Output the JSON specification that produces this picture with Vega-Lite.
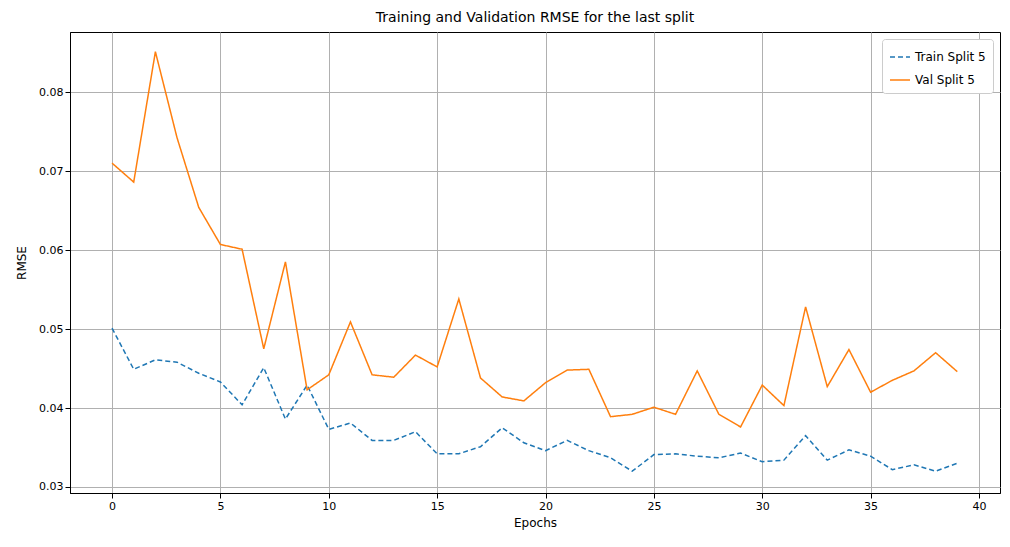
{
  "$schema": "https://vega.github.io/schema/vega-lite/v6.json",
  "autosize": {"type": "none"},
  "padding": {"left": 70, "top": 32, "right": 10, "bottom": 54},
  "width": 930,
  "height": 461,
  "title": {"text": "Training and Validation RMSE for the last split", "fontSize": 14, "fontWeight": "normal", "font": "DejaVu Sans", "color": "black", "offset": 7},
  "config": {
    "font": "DejaVu Sans",
    "view": {"stroke": "black"},
    "axis": {"labelFont": "DejaVu Sans", "titleFont": "DejaVu Sans", "labelFontSize": 11, "titleFontSize": 12, "titleFontWeight": "normal", "labelColor": "black", "titleColor": "black", "domainColor": "black", "tickColor": "black", "gridColor": "#b0b0b0", "gridOpacity": 1}
  },
  "data": {"values": [
    {"e":0,"s":"Train Split 5","v":0.0501},{"e":1,"s":"Train Split 5","v":0.0449},{"e":2,"s":"Train Split 5","v":0.0461},{"e":3,"s":"Train Split 5","v":0.0458},{"e":4,"s":"Train Split 5","v":0.0444},{"e":5,"s":"Train Split 5","v":0.0433},{"e":6,"s":"Train Split 5","v":0.0404},{"e":7,"s":"Train Split 5","v":0.0451},{"e":8,"s":"Train Split 5","v":0.0386},{"e":9,"s":"Train Split 5","v":0.0429},
    {"e":10,"s":"Train Split 5","v":0.0373},{"e":11,"s":"Train Split 5","v":0.0381},{"e":12,"s":"Train Split 5","v":0.0359},{"e":13,"s":"Train Split 5","v":0.0359},{"e":14,"s":"Train Split 5","v":0.0370},{"e":15,"s":"Train Split 5","v":0.0342},{"e":16,"s":"Train Split 5","v":0.0342},{"e":17,"s":"Train Split 5","v":0.0351},{"e":18,"s":"Train Split 5","v":0.0375},{"e":19,"s":"Train Split 5","v":0.0356},
    {"e":20,"s":"Train Split 5","v":0.0346},{"e":21,"s":"Train Split 5","v":0.0359},{"e":22,"s":"Train Split 5","v":0.0346},{"e":23,"s":"Train Split 5","v":0.0337},{"e":24,"s":"Train Split 5","v":0.0320},{"e":25,"s":"Train Split 5","v":0.0341},{"e":26,"s":"Train Split 5","v":0.0342},{"e":27,"s":"Train Split 5","v":0.0339},{"e":28,"s":"Train Split 5","v":0.0337},{"e":29,"s":"Train Split 5","v":0.0343},
    {"e":30,"s":"Train Split 5","v":0.0332},{"e":31,"s":"Train Split 5","v":0.0334},{"e":32,"s":"Train Split 5","v":0.0365},{"e":33,"s":"Train Split 5","v":0.0334},{"e":34,"s":"Train Split 5","v":0.0347},{"e":35,"s":"Train Split 5","v":0.0339},{"e":36,"s":"Train Split 5","v":0.0322},{"e":37,"s":"Train Split 5","v":0.0328},{"e":38,"s":"Train Split 5","v":0.0320},{"e":39,"s":"Train Split 5","v":0.0330},
    {"e":0,"s":"Val Split 5","v":0.0710},{"e":1,"s":"Val Split 5","v":0.0686},{"e":2,"s":"Val Split 5","v":0.0851},{"e":3,"s":"Val Split 5","v":0.0742},{"e":4,"s":"Val Split 5","v":0.0654},{"e":5,"s":"Val Split 5","v":0.0607},{"e":6,"s":"Val Split 5","v":0.0601},{"e":7,"s":"Val Split 5","v":0.0475},{"e":8,"s":"Val Split 5","v":0.0585},{"e":9,"s":"Val Split 5","v":0.0423},
    {"e":10,"s":"Val Split 5","v":0.0442},{"e":11,"s":"Val Split 5","v":0.0509},{"e":12,"s":"Val Split 5","v":0.0442},{"e":13,"s":"Val Split 5","v":0.0439},{"e":14,"s":"Val Split 5","v":0.0467},{"e":15,"s":"Val Split 5","v":0.0452},{"e":16,"s":"Val Split 5","v":0.0538},{"e":17,"s":"Val Split 5","v":0.0438},{"e":18,"s":"Val Split 5","v":0.0414},{"e":19,"s":"Val Split 5","v":0.0409},
    {"e":20,"s":"Val Split 5","v":0.0432},{"e":21,"s":"Val Split 5","v":0.0448},{"e":22,"s":"Val Split 5","v":0.0449},{"e":23,"s":"Val Split 5","v":0.0389},{"e":24,"s":"Val Split 5","v":0.0392},{"e":25,"s":"Val Split 5","v":0.0401},{"e":26,"s":"Val Split 5","v":0.0392},{"e":27,"s":"Val Split 5","v":0.0447},{"e":28,"s":"Val Split 5","v":0.0392},{"e":29,"s":"Val Split 5","v":0.0376},
    {"e":30,"s":"Val Split 5","v":0.0429},{"e":31,"s":"Val Split 5","v":0.0403},{"e":32,"s":"Val Split 5","v":0.0528},{"e":33,"s":"Val Split 5","v":0.0427},{"e":34,"s":"Val Split 5","v":0.0474},{"e":35,"s":"Val Split 5","v":0.0420},{"e":36,"s":"Val Split 5","v":0.0435},{"e":37,"s":"Val Split 5","v":0.0447},{"e":38,"s":"Val Split 5","v":0.0470},{"e":39,"s":"Val Split 5","v":0.0446}
  ]},
  "mark": {"type": "line", "strokeWidth": 1.5},
  "encoding": {
    "x": {"field": "e", "type": "quantitative", "title": "Epochs", "scale": {"domain": [-1.94, 40.97], "nice": false, "zero": false}, "axis": {"values": [0,5,10,15,20,25,30,35,40], "titlePadding": 6}},
    "y": {"field": "v", "type": "quantitative", "title": "RMSE", "scale": {"domain": [0.02924, 0.0876], "nice": false, "zero": false}, "axis": {"values": [0.03,0.04,0.05,0.06,0.07,0.08], "format": ".2f", "titlePadding": 10}},
    "color": {"field": "s", "type": "nominal", "title": null, "scale": {"domain": ["Train Split 5", "Val Split 5"], "range": ["#1f77b4", "#ff7f0e"]},
      "legend": {"orient": "top-right", "offset": 7, "strokeColor": "#cccccc", "fillColor": "white", "padding": 7, "cornerRadius": 3, "labelFontSize": 12, "labelFont": "DejaVu Sans", "labelColor": "black", "symbolType": "stroke", "symbolSize": 400, "symbolStrokeWidth": 1.5, "rowPadding": 6}},
    "strokeDash": {"field": "s", "type": "nominal", "scale": {"domain": ["Train Split 5", "Val Split 5"], "range": [[5, 3], [1, 0]]}, "legend": null}
  }
}
